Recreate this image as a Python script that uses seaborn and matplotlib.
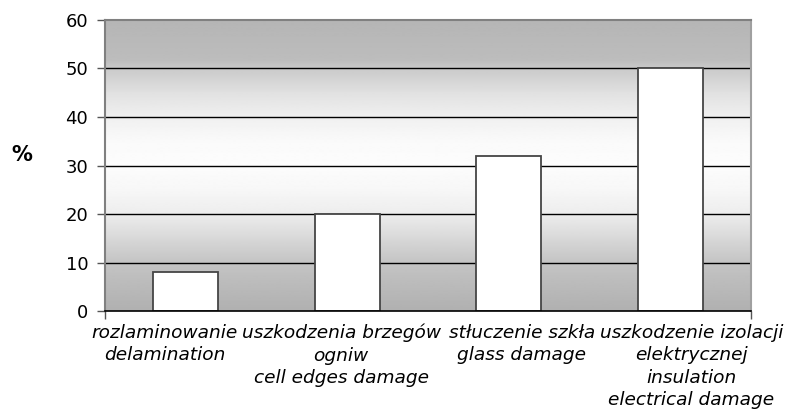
import numpy as np
import matplotlib
matplotlib.use("Agg")
import matplotlib.pyplot as plt
import matplotlib.transforms as mtransforms
import seaborn as sns

sns.set_style("white")
plt.rcParams['font.family'] = ['DejaVu Sans']
plt.rcParams['text.color'] = 'black'
plt.rcParams['xtick.color'] = 'black'
plt.rcParams['ytick.color'] = 'black'

# data
categories = ["rozlaminowanie\ndelamination",
              "uszkodzenia brzegów\nogniw\ncell edges damage",
              "stłuczenie szkła\nglass damage",
              "uszkodzenie izolacji\nelektrycznej\ninsulation\nelectrical damage"]
values = [8, 20, 32, 50]
y_ticks = [0, 10, 20, 30, 40, 50, 60]

fig = plt.figure(figsize=(7.94, 4.12), dpi=100, facecolor='white')
ax = fig.add_axes([0.1322, 0.2451, 0.8136, 0.7064])

# background gradient (dark top, white middle, dark bottom)
stops = np.array([0.0, 0.167, 0.333, 0.42, 0.5, 0.58, 0.667, 0.75, 0.833, 0.86, 1.0])
grays = np.array([0.69, 0.77, 0.93, 0.97, 0.99, 0.98, 0.94, 0.88, 0.79, 0.74, 0.71])
yy = np.linspace(0, 1, 300)
col = np.interp(yy, stops, grays)[::-1].reshape(-1, 1)
ax.imshow(col, cmap='gray', vmin=0, vmax=1, aspect='auto',
          extent=[-0.5, 3.5, 0, 60], zorder=0, interpolation='bilinear')

sns.barplot(x=categories, y=values, color='white', saturation=1,
            edgecolor='#454545', linewidth=1.3, width=0.4, ax=ax, zorder=3)

for v in y_ticks[1:-1]:
    ax.axhline(v, color='black', lw=1.0, zorder=1)

ax.set_xlim(-0.5, 3.5)
ax.set_ylim(0, 60)
ax.set_yticks(y_ticks)
ax.tick_params(axis='y', direction='out', length=6, width=1, color='#555555',
               pad=6, labelsize=13, left=True)
ax.tick_params(axis='x', which='major', length=0, pad=9, labelsize=13.3)
ax.set_xticks([-0.5, 3.5], minor=True)
ax.tick_params(axis='x', which='minor', direction='out', length=6, width=1,
               color='#555555', bottom=True)

# labels are nudged sideways so they don't collide (as in the original)
shifts = [-21, -6, 13, 21]
for lab, dx in zip(ax.get_xticklabels(), shifts):
    lab.set_fontstyle('italic')
    lab.set_linespacing(1.33)
    lab.set_transform(lab.get_transform() +
                      mtransforms.ScaledTranslation(dx / 100, 0, fig.dpi_scale_trans))

for side in ['top', 'left']:
    ax.spines[side].set_color('#808080')
    ax.spines[side].set_linewidth(1.5)
ax.spines['right'].set_color('#a0a0a0')
ax.spines['right'].set_linewidth(1.5)
ax.spines['bottom'].set_color('black')
ax.spines['bottom'].set_linewidth(1.2)
for s in ax.spines.values():
    s.set_visible(True)
    s.set_zorder(4)

ax.set_xlabel("")
ax.set_ylabel("")
fig.text(0.014, 0.623, "%", fontsize=15, fontweight='bold', va='center')

fig.savefig("out.png", dpi=100, facecolor='white')
